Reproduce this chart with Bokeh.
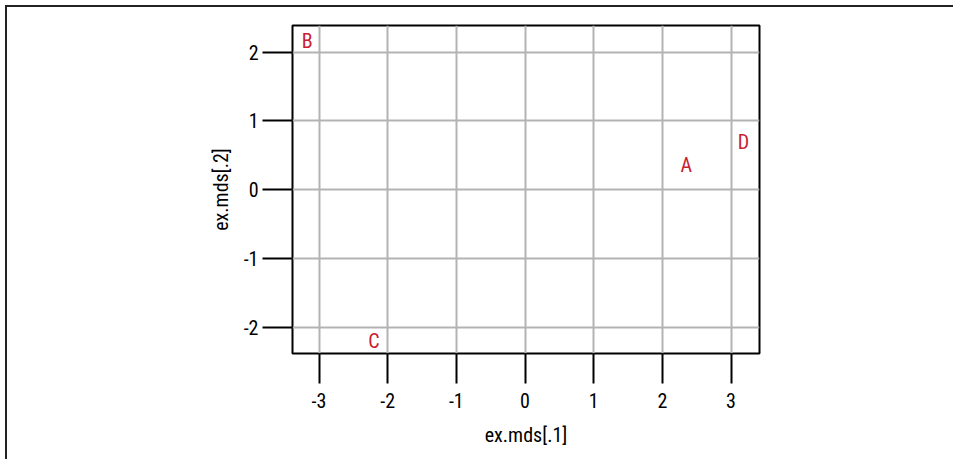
from bokeh.plotting import figure
from bokeh.models import FixedTicker, ColumnDataSource, CustomJSTickFormatter
from bokeh.core.properties import value
from bokeh.embed import file_html
from bokeh.resources import INLINE

labels = ["A", "B", "C", "D"]
dim1 = [2.35, -3.17, -2.2, 3.18]
dim2 = [0.36, 2.155, -2.2, 0.70]
x_ticks = [-3, -2, -1, 0, 1, 2, 3]
y_ticks = [-2, -1, 0, 1, 2]

FONT = "Roboto Condensed"

p = figure(frame_width=467, frame_height=328, output_backend="svg", toolbar_location=None,
           x_range=(-3.386, 3.415), y_range=(-2.377, 2.387),
           min_border_left=285, min_border_right=194, min_border_top=18, min_border_bottom=106,
           x_axis_label="ex.mds[.1]", y_axis_label="ex.mds[.2]")

src = ColumnDataSource(dict(x=dim1, y=dim2, t=labels))
p.text(x="x", y="y", text="t", source=src, text_align="center", text_baseline="middle",
       text_color="#c8202f", text_font=value(FONT), text_font_size="20px")

p.outline_line_color = "black"
p.outline_line_width = 2

for ax in (p.xaxis[0], p.yaxis[0]):
    ax.axis_line_color = None
    ax.major_tick_line_color = "black"
    ax.major_tick_line_width = 2
    ax.major_tick_in = 0
    ax.major_tick_out = 30
    ax.minor_tick_line_color = None
    ax.major_label_text_font = FONT
    ax.major_label_text_font_size = "20px"
    ax.major_label_text_color = "black"
    ax.axis_label_text_font = FONT
    ax.axis_label_text_font_size = "20px"
    ax.axis_label_text_font_style = "normal"
    ax.axis_label_text_color = "black"
    ax.formatter = CustomJSTickFormatter(code="return tick.toFixed(0);")

p.xaxis[0].ticker = FixedTicker(ticks=x_ticks)
p.yaxis[0].ticker = FixedTicker(ticks=y_ticks)
p.xaxis[0].major_label_standoff = 9
p.yaxis[0].major_label_standoff = 4
p.xaxis[0].axis_label_standoff = 12
p.yaxis[0].axis_label_standoff = 8

p.xgrid.ticker = FixedTicker(ticks=x_ticks)
p.ygrid.ticker = FixedTicker(ticks=y_ticks)
for g in (p.xgrid[0], p.ygrid[0]):
    g.grid_line_color = "#b3b3b3"
    g.grid_line_width = 2

p.styles = {"border-top": "2px solid #222", "border-left": "2px solid #222",
            "margin-top": "5px", "margin-left": "5px"}

open("out.html", "w").write(file_html(p, INLINE))
